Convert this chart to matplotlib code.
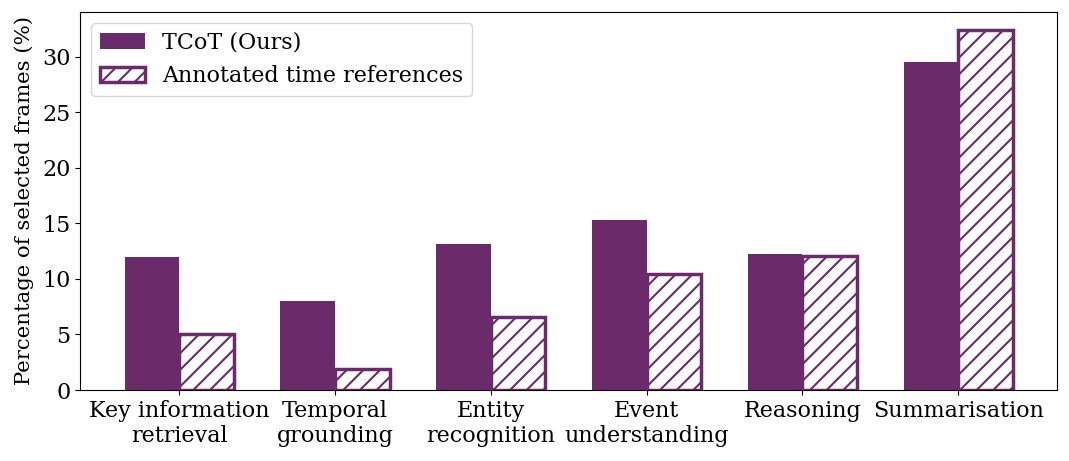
import matplotlib.pyplot as plt
import numpy as np

plt.rcParams['font.family'] = 'DejaVu Serif'
plt.rcParams['hatch.color'] = '#6b2b6b'
plt.rcParams['hatch.linewidth'] = 1.5

categories = ['Key information\nretrieval', 'Temporal\ngrounding', 'Entity\nrecognition',
              'Event\nunderstanding', 'Reasoning', 'Summarisation']
tcot = [12.0, 8.0, 13.1, 15.3, 12.2, 29.5]
annotated = [5.0, 1.9, 6.6, 10.4, 12.1, 32.4]

purple = '#6b2b6b'
x = np.arange(len(categories))
w = 0.35

fig, ax = plt.subplots(figsize=(10.69, 4.61), dpi=100)
ax.bar(x - w/2, tcot, w, color=purple, label='TCoT (Ours)')
ax.bar(x + w/2, annotated, w, color='white', edgecolor=purple, linewidth=2.5,
       hatch='//', label='Annotated time references')

ax.set_xticks(x)
ax.set_xticklabels(categories, fontsize=16)
ax.tick_params(axis='y', labelsize=16)
ax.set_ylabel('Percentage of selected frames (%)', fontsize=15.3, labelpad=6)
ax.legend(loc='upper left', fontsize=16)

plt.subplots_adjust(left=0.075, right=0.989, top=0.974, bottom=0.154)
plt.savefig('out.png')
